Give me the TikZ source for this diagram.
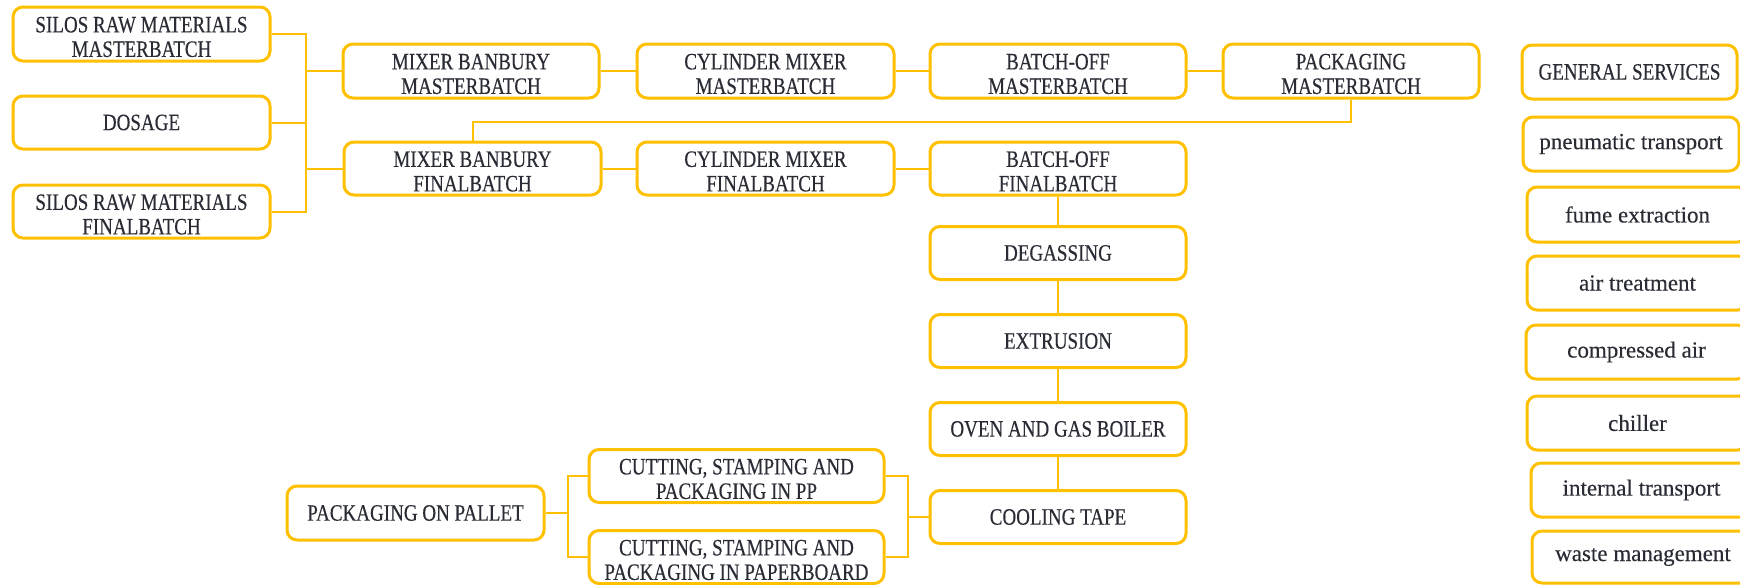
\documentclass[tikz,border=0pt]{standalone}
\usepackage{fontspec}
\setmainfont{Liberation Serif}[FakeStretch=0.81,FakeBold=0.3]
\newfontfamily\lcfont{Liberation Serif}[FakeBold=0.3]
\definecolor{gold}{HTML}{FFC000}
\definecolor{ink}{HTML}{2A2C35}
\newcommand\tl{\rule{0pt}{21.5pt}}
\begin{document}
\begin{tikzpicture}[x=1pt,y=-1pt,
  box/.style={draw=gold, line width=3pt, rounded corners=10pt, fill=white,
    text=ink, align=center, inner sep=0pt, minimum height=54pt,
    font=\fontsize{23.5}{24.5}\selectfont},
  lbox/.style={box, font=\lcfont\fontsize{23}{25}\selectfont},
  link/.style={draw=gold, line width=2pt}]
\useasboundingbox (0,0) rectangle (1740,584);
% left column
\node[box, minimum width=257pt] (silosmb) at (141.5,34) {\tl SILOS RAW MATERIALS\\MASTERBATCH};
\node[box, minimum width=257pt, minimum height=53pt] (dosage) at (141.5,122.5) {DOSAGE};
\node[box, minimum width=257pt, minimum height=53pt] (silosfb) at (141.5,211.5) {\tl SILOS RAW MATERIALS\\FINALBATCH};
% row 1
\node[box, minimum width=256pt] (mixmb) at (471,71) {\tl MIXER BANBURY\\MASTERBATCH};
\node[box, minimum width=257pt] (cylmb) at (765.5,71) {\tl CYLINDER MIXER\\MASTERBATCH};
\node[box, minimum width=256pt] (bomb) at (1058,71) {\tl BATCH-OFF\\MASTERBATCH};
\node[box, minimum width=256pt] (pkgmb) at (1351,71) {\tl PACKAGING\\MASTERBATCH};
% row 2
\node[box, minimum width=257pt, minimum height=53pt] (mixfb) at (472.5,168.5) {\tl MIXER BANBURY\\FINALBATCH};
\node[box, minimum width=257pt, minimum height=53pt] (cylfb) at (765.5,168.5) {\tl CYLINDER MIXER\\FINALBATCH};
\node[box, minimum width=256pt, minimum height=53pt] (bofb) at (1058,168.5) {\tl BATCH-OFF\\FINALBATCH};
% middle column
\node[box, minimum width=256pt, minimum height=53pt] (degas) at (1058,253) {DEGASSING};
\node[box, minimum width=256pt, minimum height=53pt] (extr) at (1058,341) {EXTRUSION};
\node[box, minimum width=256pt, minimum height=53pt] (oven) at (1058,429) {OVEN AND GAS BOILER};
\node[box, minimum width=256pt, minimum height=53pt] (cool) at (1058,517) {COOLING TAPE};
% bottom left
\node[box, minimum width=257pt] (pallet) at (415.5,513) {PACKAGING ON PALLET};
\node[box, minimum width=295pt, minimum height=53pt] (cutpp) at (736.5,476) {\tl CUTTING, STAMPING AND\\PACKAGING IN PP};
\node[box, minimum width=295pt, minimum height=53pt] (cutpb) at (736.5,557) {\tl CUTTING, STAMPING AND\\PACKAGING IN PAPERBOARD};
% right column
\node[box, minimum width=215pt] (gs) at (1629.5,72) {GENERAL SERVICES};
\node[lbox, minimum width=216pt] (pt) at (1631,144) {pneumatic transport};
\node[lbox, minimum width=221pt, minimum height=55pt] (fe) at (1637.5,214.5) {fume extraction};
\node[lbox, minimum width=221pt] (at) at (1637.5,283) {air treatment};
\node[lbox, minimum width=221pt] (ca) at (1636.5,352) {compressed air};
\node[lbox, minimum width=221pt] (ch) at (1637.5,423) {chiller};
\node[lbox, minimum width=221pt] (it) at (1641.5,490) {internal transport};
\node[lbox, minimum width=222pt, minimum height=52pt] (wm) at (1643,557) {waste management};
% bus coordinates
\coordinate (busL) at (306,0);
\coordinate (busA) at (568,0);
\coordinate (busB) at (908,0);
% connectors: inputs
\draw[link] (silosmb.east) -- (silosmb.east -| busL) -- (silosfb.east -| busL) -- (silosfb.east);
\draw[link] (dosage.east) -- (dosage.east -| busL);
\draw[link] (busL |- mixmb.west) -- (mixmb.west);
\draw[link] (busL |- mixfb.west) -- (mixfb.west);
% row 1
\draw[link] (mixmb.east) -- (cylmb.west);
\draw[link] (cylmb.east) -- (bomb.west);
\draw[link] (bomb.east) -- (pkgmb.west);
% loop back
\draw[link] (pkgmb.south) -- ++(0,22) -| (mixfb.north);
% row 2
\draw[link] (mixfb.east) -- (cylfb.west);
\draw[link] (cylfb.east) -- (bofb.west);
% column
\draw[link] (bofb.south) -- (degas.north);
\draw[link] (degas.south) -- (extr.north);
\draw[link] (extr.south) -- (oven.north);
\draw[link] (oven.south) -- (cool.north);
% bottom
\draw[link] (cool.west) -- (cool.west -| busB);
\draw[link] (cutpp.east) -- (cutpp.east -| busB) -- (cutpb.east -| busB) -- (cutpb.east);
\draw[link] (pallet.east) -- (pallet.east -| busA);
\draw[link] (cutpp.west) -- (cutpp.west -| busA) -- (cutpb.west -| busA) -- (cutpb.west);
\end{tikzpicture}
\end{document}
